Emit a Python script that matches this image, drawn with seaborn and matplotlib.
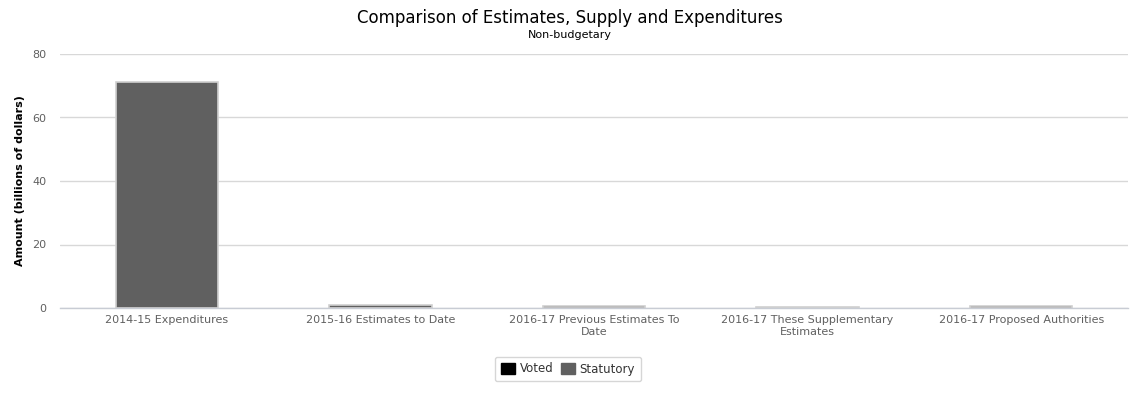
import matplotlib
matplotlib.use("Agg")
import matplotlib.pyplot as plt
import seaborn as sns
import pandas as pd
from matplotlib.patches import Patch

# Values (billions of dollars)
categories = [
    "2014-15 Expenditures",
    "2015-16 Estimates to Date",
    "2016-17 Previous Estimates To\nDate",
    "2016-17 These Supplementary\nEstimates",
    "2016-17 Proposed Authorities",
]
voted = [0.0, 0.0, 0.0, 0.0, 0.0]
statutory = [71.3, 1.0, 0.6, 0.2, 0.6]

voted_color = "#000000"
statutory_color = "#606060"

df = pd.DataFrame({"Category": categories, "Voted": voted, "Statutory": statutory})
df["Total"] = df["Voted"] + df["Statutory"]

sns.set_style("white")
plt.rcParams["font.family"] = ["DejaVu Sans"]

fig = plt.figure(figsize=(11.39, 3.94), dpi=100)
ax = fig.add_axes([60 / 1139, 1 - 308 / 394, 1068 / 1139, 254 / 394])

# stacked: statutory on top of voted -> draw total in statutory colour, voted over it
sns.barplot(data=df, x="Category", y="Total", color=statutory_color, width=0.48,
            edgecolor="#d0d0d0", linewidth=1.2, saturation=1, ax=ax)
sns.barplot(data=df, x="Category", y="Voted", color=voted_color, width=0.48,
            linewidth=0, saturation=1, ax=ax)

ax.set_ylim(0, 80)
ax.set_xlim(-0.5, len(categories) - 0.5)
ax.set_yticks([0, 20, 40, 60, 80])
ax.yaxis.grid(True, color="#d8d8d8", linewidth=1)
ax.set_axisbelow(True)
for s in ["top", "right", "left"]:
    ax.spines[s].set_visible(False)
ax.spines["bottom"].set_color("#c8ccd4")
ax.spines["bottom"].set_linewidth(1)

ax.set_xticks(range(len(categories)))
ax.set_xticklabels(categories, fontsize=8, color="#606060", linespacing=1.3)
ax.tick_params(axis="x", length=0, pad=5)
ax.tick_params(axis="y", length=0, labelsize=8, labelcolor="#606060", pad=10)
# tick marks at category boundaries
ax.set_xticks([i - 0.5 for i in range(len(categories) + 1)], minor=True)
ax.tick_params(axis="x", which="minor", length=6, color="#c8ccd4", width=1)

ax.set_xlabel("")
ax.set_ylabel("Amount (billions of dollars)", fontsize=8, fontweight="bold",
              color="#000000")
ax.yaxis.set_label_coords(-(60 - 25) / 1068, 0.5)

fig.text(0.5, 1 - 18 / 394, "Comparison of Estimates, Supply and Expenditures",
         ha="center", va="center", fontsize=12, color="#000000")
fig.text(0.5, 1 - 35 / 394, "Non-budgetary", ha="center", va="center",
         fontsize=8, color="#000000")

handles = [Patch(facecolor=voted_color, edgecolor=voted_color, label="Voted"),
           Patch(facecolor=statutory_color, edgecolor=statutory_color, label="Statutory")]
leg = fig.legend(handles=handles, loc="center", bbox_to_anchor=(568 / 1139, 1 - 369 / 394),
                 ncol=2, fontsize=8.5, frameon=True, fancybox=True, handlelength=1.2,
                 handleheight=1.0, handletextpad=0.4, columnspacing=0.6,
                 borderpad=0.5)
leg.get_frame().set_edgecolor("#cccccc")
leg.get_frame().set_linewidth(1)
for t in leg.get_texts():
    t.set_color("#333333")

fig.savefig("out.png", dpi=100)
